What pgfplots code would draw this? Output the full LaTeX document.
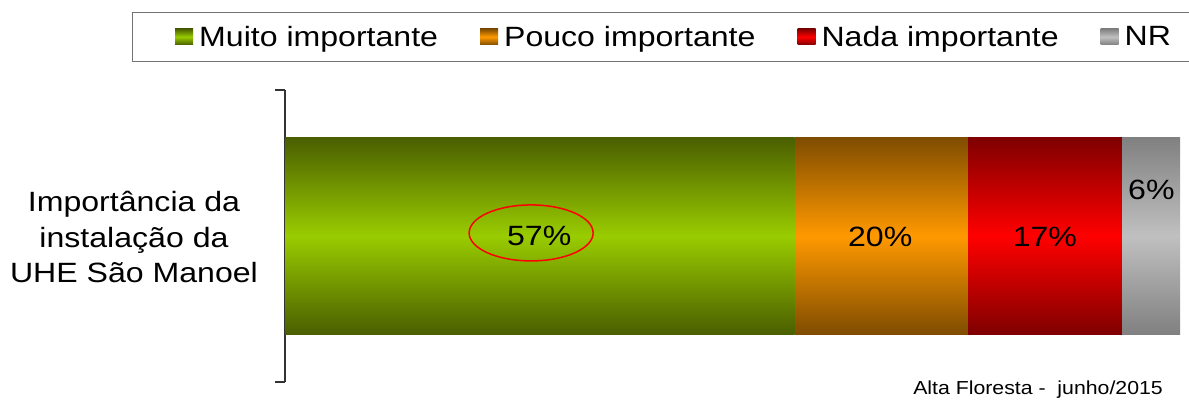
\documentclass[border=0pt]{standalone}
\usepackage{pgfplots}
\pgfplotsset{compat=1.18}
\usepackage{fontspec}
\setmainfont{Liberation Sans}[FakeStretch=1.13]
\newfontfamily\bigfam{Liberation Sans}[FakeStretch=1.15]
\definecolor{gD}{HTML}{4A5E00}
\definecolor{gL}{HTML}{99CC00}
\definecolor{oD}{HTML}{7F4C00}
\definecolor{oL}{HTML}{FF9900}
\definecolor{rD}{HTML}{7F0000}
\definecolor{rL}{HTML}{FF0000}
\definecolor{nD}{HTML}{808080}
\definecolor{nL}{HTML}{C0C0C0}
\pgfplotsset{leg/.style={legend image code/.code={\path[##1,draw=none] (0bp,-8bp) rectangle (18bp,8bp);}}}
\newcommand{\bigtxt}{\bigfam\fontsize{28}{36}\selectfont}
\begin{document}
\begin{tikzpicture}
\useasboundingbox (0,0) rectangle (1189bp,401bp);
\begin{axis}[
  at={(285bp,19bp)}, anchor=south west,
  scale only axis, width=895bp, height=292bp,
  xbar stacked, bar width=197bp,
  xmin=0, xmax=100, ymin=-1, ymax=1,
  axis x line=none, axis y line*=left,
  ytick={-1,1}, yticklabels={}, tick align=outside, major tick length=10bp,
  every tick/.style={black!80, line width=1.2bp},
  y axis line style={black!80, line width=1.2bp},
  clip=false,
  legend columns=4,
  legend style={at={(-0.1713,1.267)}, anchor=north west, draw=black!55, line width=1bp,
    font=\bigtxt, inner xsep=43bp, inner ysep=9.5bp,
    nodes={inner sep=4bp}, cells={anchor=west},
    /tikz/every odd column/.append style={column sep=2bp},
    /tikz/every even column/.append style={column sep=38bp}},
]
\addplot[draw=none, top color=gD, bottom color=gD, middle color=gL, leg] coordinates {(56.9,0)};
\addlegendentry{Muito importante}
\addplot[draw=none, top color=oD, bottom color=oD, middle color=oL, leg] coordinates {(19.4,0)};
\addlegendentry{Pouco importante}
\addplot[draw=none, top color=rD, bottom color=rD, middle color=rL, leg] coordinates {(17.2,0)};
\addlegendentry{Nada importante}
\addplot[draw=none, top color=nD, bottom color=nD, middle color=nL, leg] coordinates {(6.5,0)};
\addlegendentry{NR}
\coordinate (c57) at (axis cs:28.4,-0.003);
\coordinate (e57) at (axis cs:27.5,0.021);
\coordinate (c20) at (axis cs:66.5,-0.003);
\coordinate (c17) at (axis cs:84.9,-0.003);
\coordinate (c6) at (axis cs:96.8,0.315);
\end{axis}
\node[font=\bigtxt] at (c57) {57\%};
\draw[red, line width=1.5bp] (e57) ellipse [x radius=62bp, y radius=28bp];
\node[font=\bigtxt] at (c20) {20\%};
\node[font=\bigtxt] at (c17) {17\%};
\node[font=\bigtxt] at (c6) {6\%};
\node[align=center, font=\bigtxt] at (134bp,164bp) {Importância da\\instalação da\\UHE São Manoel};
\node[anchor=east, font=\fontsize{18.9}{22}\selectfont, inner sep=0pt] at (1163bp,11bp) {Alta Floresta -~~junho/2015};
\end{tikzpicture}
\end{document}
